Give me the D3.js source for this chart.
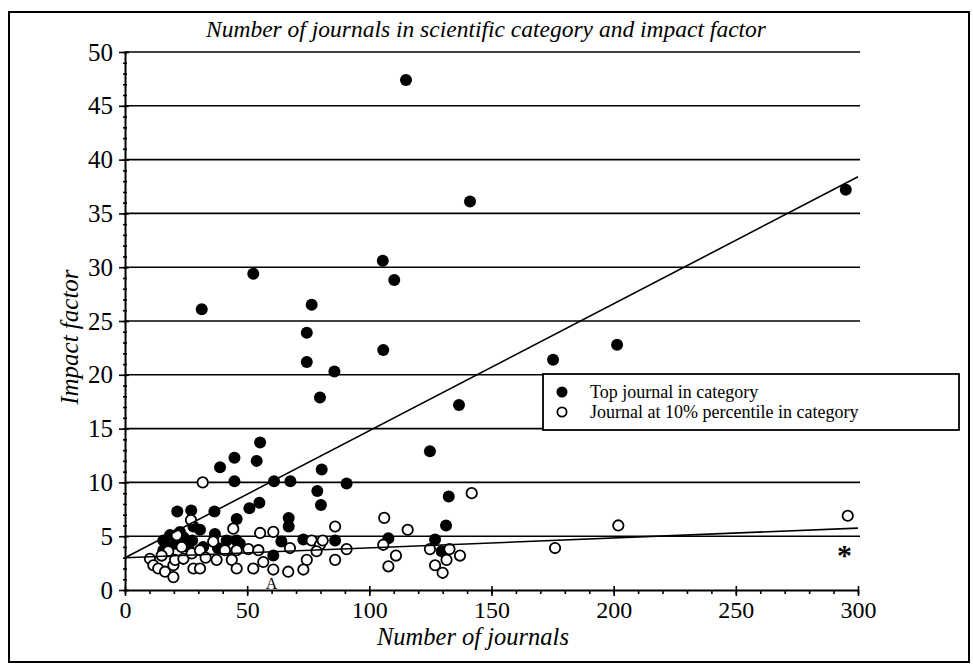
<!DOCTYPE html>
<html>
<head>
<meta charset="utf-8">
<script src="https://cdn.jsdelivr.net/npm/d3@7"></script>
<style>
  body { margin: 0; background: #fff; }
  svg { display: block; }
  text { font-family: "Liberation Serif", "Times New Roman", serif; fill: #000; }
</style>
</head>
<body>
<svg id="chart" width="973" height="666"></svg>
<script>
// top journal in each category: [number of journals, impact factor]
var topJournals = [
  [115, 47.4], [141.2, 36.1], [295, 37.2], [52.5, 29.4], [105.5, 30.6], [110.2, 28.8],
  [31.4, 26.1], [76.4, 26.5], [74.4, 23.9], [74.4, 21.2], [105.7, 22.3], [85.7, 20.3],
  [79.8, 17.9], [136.7, 17.2], [175.2, 21.4], [201.4, 22.8], [124.8, 12.9], [55.3, 13.7],
  [44.8, 12.3], [53.9, 12.0], [38.9, 11.4], [80.5, 11.2], [44.8, 10.1], [61, 10.1],
  [67.7, 10.1], [90.7, 9.9], [78.7, 9.2], [80.2, 7.9], [132.5, 8.7], [131.4, 6.0],
  [21.4, 7.3], [27.1, 7.4], [36.6, 7.3], [50.9, 7.6], [55, 8.1], [45.7, 6.6],
  [67, 6.7], [67, 5.9], [22.5, 5.4], [23.9, 4.9], [28, 5.9], [30.7, 5.6],
  [36.8, 5.2], [18.4, 5.1], [15.7, 4.6], [17.7, 4.0], [15.7, 3.7], [25.9, 4.0],
  [32, 4.0], [41.6, 4.6], [45.7, 4.6], [73, 4.7], [60.7, 3.2], [86, 4.6],
  [107.8, 4.8], [126.9, 4.7], [129.6, 3.6], [20.5, 4.3], [27.5, 4.6], [38, 3.9],
  [47, 4.3], [64, 4.5]
];

// journal at 10% percentile
var pctJournals = [
  [31.8, 10.0], [141.9, 9.0], [27, 6.5], [106.1, 6.7], [201.9, 6.0], [295.8, 6.9],
  [86, 5.9], [115.7, 5.6], [44.3, 5.7], [55.3, 5.3], [60.7, 5.4], [21.2, 5.1],
  [23.2, 4.0], [17.7, 3.6], [10.2, 2.9], [11.6, 2.3], [13.6, 2.0], [16.4, 1.7],
  [19.8, 1.2], [19.8, 2.3], [20.5, 2.8], [23.9, 2.9], [27.3, 3.4], [30.7, 3.7],
  [28, 2.0], [30.7, 2.0], [36.1, 4.5], [37.5, 2.8], [40.9, 3.7], [45.7, 3.7],
  [50.5, 3.8], [54.6, 3.7], [67.5, 3.9], [76.4, 4.6], [79.8, 4.2], [78.4, 3.6],
  [43.7, 2.8], [56.6, 2.6], [74.4, 2.8], [45.7, 2.0], [52.5, 2.0], [60.7, 1.9],
  [66.8, 1.7], [73, 1.9], [105.7, 4.2], [90.7, 3.8], [124.8, 3.8], [132.8, 3.8],
  [137.1, 3.2], [110.9, 3.2], [131.6, 2.8], [86, 2.8], [107.8, 2.2], [126.9, 2.3],
  [130, 1.6], [80.9, 4.6], [176, 3.9], [15, 3.2], [33, 3.0]
];

// trend lines, value at x = 0 and x = 300
var trendX = [0, 300];
var trendTop = [3.0, 38.4];
var trendPct = [3.0, 5.75];

var xTicks = [0, 50, 100, 150, 200, 250, 300];
var yTicks = [0, 5, 10, 15, 20, 25, 30, 35, 40, 45, 50];

var legendLabels = ["Top journal in category", "Journal at 10% percentile in category"];

var svg = d3.select("#chart");

// outer frame
svg.append("rect")
  .attr("x", 9).attr("y", 12)
  .attr("width", 960).attr("height", 650)
  .attr("fill", "none").attr("stroke", "#000").attr("stroke-width", 2);

var x = d3.scaleLinear().domain([0, 300]).range([125, 858]),
    y = d3.scaleLinear().domain([0, 50]).range([590, 52]);

// horizontal grid
svg.append("g").selectAll("line")
  .data(yTicks.filter(function (d) { return d > 0; }))
  .join("line")
  .attr("x1", x(0)).attr("x2", x(300) + 2)
  .attr("y1", function (d) { return y(d); })
  .attr("y2", function (d) { return y(d); })
  .attr("stroke", "#000").attr("stroke-width", 1.6);

// minor ticks
svg.append("g")
  .attr("transform", "translate(" + x(0) + ",0)")
  .call(d3.axisLeft(y).tickValues(d3.range(0, 51, 1)).tickSize(2).tickFormat(""))
  .call(function (g) {
    g.select(".domain").remove();
    g.selectAll("line").attr("x1", 2).attr("stroke-width", 1.3);
  });
svg.append("g")
  .attr("transform", "translate(0," + y(0) + ")")
  .call(d3.axisBottom(x).tickValues(d3.range(0, 301, 10)).tickSize(4).tickFormat(""))
  .call(function (g) {
    g.select(".domain").remove();
    g.selectAll("line").attr("stroke-width", 1.3);
  });

// major axes
var yAxis = svg.append("g")
  .attr("transform", "translate(" + x(0) + ",0)")
  .call(d3.axisLeft(y).tickValues(yTicks).tickSizeInner(6).tickSizeOuter(0).tickPadding(6));
yAxis.selectAll(".tick line").attr("x1", 4);
yAxis.selectAll(".tick text").attr("font-size", 25);

var xAxis = svg.append("g")
  .attr("transform", "translate(0," + y(0) + ")")
  .call(d3.axisBottom(x).tickValues(xTicks).tickSizeInner(6).tickSizeOuter(0).tickPadding(5));
xAxis.selectAll(".tick line").attr("y1", -4);
xAxis.selectAll(".tick text").attr("font-size", 24);

svg.selectAll(".domain").attr("stroke-width", 2);
svg.selectAll(".tick line").attr("stroke-width", 1.6);

// points
svg.append("g").selectAll("circle")
  .data(topJournals)
  .join("circle")
  .attr("cx", function (d) { return x(d[0]); })
  .attr("cy", function (d) { return y(d[1]); })
  .attr("r", 6)
  .attr("fill", "#000");

svg.append("g").selectAll("circle")
  .data(pctJournals)
  .join("circle")
  .attr("cx", function (d) { return x(d[0]); })
  .attr("cy", function (d) { return y(d[1]); })
  .attr("r", 5.2)
  .attr("fill", "#fff")
  .attr("stroke", "#000")
  .attr("stroke-width", 1.8);

// trend lines
var line = d3.line()
  .x(function (d) { return x(d[0]); })
  .y(function (d) { return y(d[1]); });
[trendTop, trendPct].forEach(function (t) {
  svg.append("path")
    .datum(trendX.map(function (v, i) { return [v, t[i]]; }))
    .attr("d", line)
    .attr("fill", "none")
    .attr("stroke", "#000")
    .attr("stroke-width", 1.6);
});

// markers of single categories
svg.append("text")
  .attr("x", x(294.5)).attr("y", y(2.5) + 2)
  .attr("text-anchor", "middle")
  .attr("font-size", 30).attr("font-weight", "bold")
  .text("*");
svg.append("text")
  .attr("x", x(60)).attr("y", y(0) - 1)
  .attr("text-anchor", "middle")
  .attr("font-size", 16)
  .text("A");

// legend
var lg = svg.append("g");
lg.append("rect")
  .attr("x", 543).attr("y", 374)
  .attr("width", 416).attr("height", 56)
  .attr("fill", "#fff").attr("stroke", "#000").attr("stroke-width", 1.8);
lg.append("circle").attr("cx", 562).attr("cy", 392).attr("r", 5.5).attr("fill", "#000");
lg.append("circle").attr("cx", 562).attr("cy", 412).attr("r", 4.6)
  .attr("fill", "#fff").attr("stroke", "#000").attr("stroke-width", 1.8);
lg.selectAll("text")
  .data(legendLabels)
  .join("text")
  .attr("x", 590)
  .attr("y", function (d, i) { return 398 + i * 20; })
  .attr("font-size", 18)
  .text(function (d) { return d; });

// titles
svg.append("text")
  .attr("x", 486).attr("y", 37)
  .attr("text-anchor", "middle")
  .attr("font-size", 23.5).attr("font-style", "italic")
  .text("Number of journals in scientific category and impact factor");

svg.append("text")
  .attr("x", 473).attr("y", 645)
  .attr("text-anchor", "middle")
  .attr("font-size", 24.5).attr("font-style", "italic")
  .text("Number of journals");

svg.append("text")
  .attr("transform", "translate(78," + y(23.5) + ") rotate(-90)")
  .attr("text-anchor", "middle")
  .attr("font-size", 25).attr("font-style", "italic")
  .text("Impact factor");
</script>
</body>
</html>
